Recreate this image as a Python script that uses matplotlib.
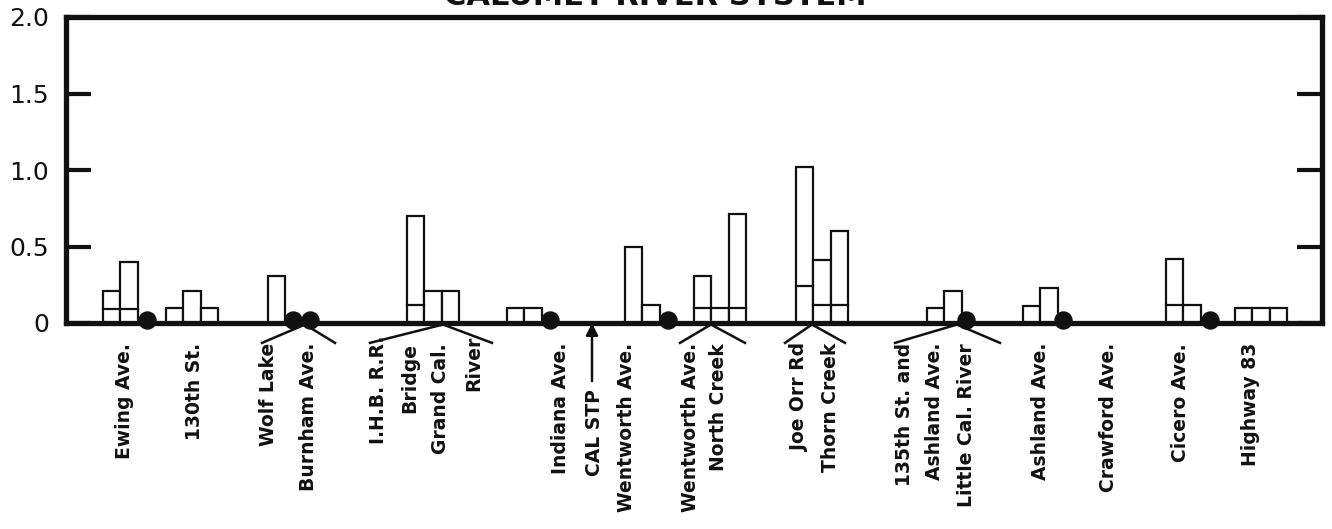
import matplotlib.pyplot as plt

# bar heights per station group (top of each bar) and inner division line (0 = none)
bar_tops = [
    [0.21, 0.40],
    [0.10, 0.21, 0.10],
    [0.31],
    [0.70, 0.21, 0.21],
    [0.10, 0.10],
    [0.50, 0.12],
    [0.31, 0.10, 0.71],
    [1.02, 0.41, 0.60],
    [0.10, 0.21],
    [0.11, 0.23],
    [0.42, 0.12],
    [0.10, 0.10, 0.10],
]
bar_inner = [
    [0.09, 0.09],
    [0, 0, 0],
    [0],
    [0.12, 0, 0],
    [0, 0],
    [0, 0],
    [0.10, 0, 0.10],
    [0.24, 0.12, 0.12],
    [0, 0],
    [0, 0],
    [0.12, 0],
    [0, 0, 0],
]

station_labels = [
    "Ewing Ave.", "130th St.", "Wolf Lake", "Burnham Ave.", "I.H.B. R.R.",
    "Bridge", "Grand Cal.", "River", "Indiana Ave.", "CAL STP",
    "Wentworth Ave.", "Wentworth Ave.", "North Creek", "Joe Orr Rd",
    "Thorn Creek", "135th St. and", "Ashland Ave.", "Little Cal. River",
    "Ashland Ave.", "Crawford Ave.", "Cicero Ave.", "Highway 83",
]
y_ticks = [0, 0.5, 1.0, 1.5, 2.0]
y_ticklabels = ["0", "0.5", "1.0", "1.5", "2.0"]

# layout (horizontal distance along the river, drawn in plot units)
group_x = [103, 166, 268, 407, 507, 625, 694, 796, 927, 1023, 1166, 1235]
bar_w = 17.3
dot_x = [147, 293, 310, 550, 668, 966, 1063, 1210]
label_x = [125, 195, 268, 308, 378, 410, 440, 474, 560, 595, 626, 690, 718,
           800, 830, 904, 935, 966, 1040, 1108, 1180, 1250]
label_top = [-0.13] * len(label_x)
label_top[4] = -0.08
label_top[7] = -0.08
label_top[9] = -0.43
# brackets below the axis: (left end, apex, right end)
brackets = [(262, 305, 335), (370, 443, 492), (680, 711, 745),
            (785, 812, 845), (895, 957, 1000)]

INK = "#111111"
fig = plt.figure(figsize=(13.32, 5.29), dpi=100)
ax = fig.add_axes([66 / 1332, 1 - 323 / 529, (1322 - 66) / 1332, (323 - 17) / 529])

for gx, tops, inner in zip(group_x, bar_tops, bar_inner):
    for i, (h, b) in enumerate(zip(tops, inner)):
        x = gx + i * bar_w
        ax.bar(x, h, width=bar_w, align="edge", facecolor="white",
               edgecolor=INK, linewidth=1.6, zorder=2)
        if b > 0:
            ax.plot([x, x + bar_w], [b, b], color=INK, lw=1.6, zorder=3)

ax.scatter(dot_x, [0.02] * len(dot_x), s=150, color=INK, zorder=5, clip_on=False)

for (l, a, r) in brackets:
    ax.plot([l, a, r], [-0.13, -0.01, -0.13], color=INK, lw=1.8, clip_on=False)

ax.annotate("", xy=(592, 0.0), xytext=(592, -0.38),
            arrowprops=dict(arrowstyle="-|>", color=INK, lw=1.8,
                            mutation_scale=18, shrinkA=0, shrinkB=0))

for lx, lt, name in zip(label_x, label_top, station_labels):
    ax.text(lx, lt, name, rotation=90, ha="center", va="top", fontsize=13.5,
            fontweight="bold", color=INK)

ax.set_xlim(66, 1322)
ax.set_ylim(0, 2.0)
ax.set_xticks([])
ax.set_yticks(y_ticks)
ax.set_yticklabels(y_ticklabels, fontsize=18)
ax.tick_params(axis="y", direction="in", length=18, width=3, pad=12,
               right=True, color=INK, labelcolor=INK)
for side, sp in ax.spines.items():
    sp.set_linewidth(3.8)
    sp.set_color(INK)
    sp.set_zorder(4)

fig.text(0.4917, 1 - 5 / 529, "CALUMET RIVER SYSTEM", ha="center",
         va="baseline", fontsize=22, fontweight="bold", color=INK)

fig.savefig("out.png", dpi=100, facecolor="white")
